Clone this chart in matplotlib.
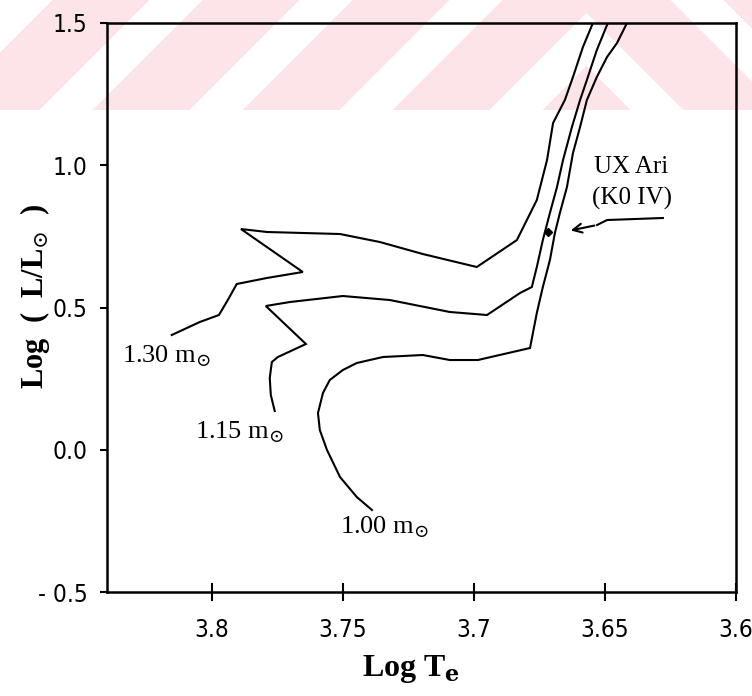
import numpy as np
import matplotlib
matplotlib.use("Agg")
import matplotlib.pyplot as plt

# Evolutionary tracks in the HR diagram: log Te vs log (L/Lsun)
track_130_logte = [3.8153, 3.8046, 3.7973, 3.7939, 3.7905, 3.7790, 3.7653, 3.7889,
                   3.7790, 3.7511, 3.7359, 3.7195, 3.6989, 3.6836, 3.6798, 3.6760,
                   3.6721, 3.6698, 3.6653, 3.6622, 3.6584, 3.6546]
track_130_logl = [0.4033, 0.4490, 0.4736, 0.5263, 0.5826, 0.6037, 0.6248, 0.7759,
                  0.7654, 0.7583, 0.7302, 0.6880, 0.6423, 0.7372, 0.8075, 0.8778,
                  1.0184, 1.1485, 1.2293, 1.3102, 1.4156, 1.5000]

track_115_logte = [3.7760, 3.7775, 3.7779, 3.7771, 3.7748, 3.7641, 3.7794, 3.7702,
                   3.7500, 3.7321, 3.7092, 3.6950, 3.6824, 3.6779, 3.6760, 3.6737,
                   3.6710, 3.6683, 3.6660, 3.6626, 3.6595, 3.6569, 3.6531, 3.6489]
track_115_logl = [0.1362, 0.1924, 0.2522, 0.3084, 0.3260, 0.3717, 0.5053, 0.5193,
                  0.5404, 0.5263, 0.4842, 0.4736, 0.5510, 0.5720, 0.6423, 0.7372,
                  0.8322, 0.9235, 1.0184, 1.1344, 1.2293, 1.2996, 1.4051, 1.5000]

track_100_logte = [3.7389, 3.7447, 3.7511, 3.7561, 3.7588, 3.7595, 3.7576, 3.7550,
                   3.7500, 3.7447, 3.7347, 3.7195, 3.7092, 3.6985, 3.6786, 3.6760,
                   3.6737, 3.6710, 3.6691, 3.6672, 3.6645, 3.6622, 3.6595, 3.6569,
                   3.6531, 3.6492, 3.6454, 3.6416]
track_100_logl = [-0.2118, -0.1661, -0.0958, 0.0000, 0.0694, 0.1291, 0.1996, 0.2451,
                  0.2803, 0.3049, 0.3260, 0.3330, 0.3154, 0.3154, 0.3576, 0.4807,
                  0.5720, 0.6669, 0.7619, 0.8322, 0.9235, 1.0431, 1.1344, 1.2293,
                  1.3102, 1.3805, 1.4297, 1.5000]

track_labels = [r"1.30 m$_{\odot}$", r"1.15 m$_{\odot}$", r"1.00 m$_{\odot}$"]
label_logte = [3.8344, 3.8065, 3.7511]
label_logl = [0.3295, 0.0624, -0.2716]

# UX Ari (K0 IV) position and its pointer
star_logte = 3.6718
star_logl = 0.7654
pointer_logte = [3.6279, 3.6492, 3.6530, 3.6620]
pointer_logl = [0.8146, 0.8075, 0.7900, 0.7710]
star_name = "UX Ari"
star_type = "(K0 IV)"

xticks = [3.8, 3.75, 3.7, 3.65, 3.6]
xtick_labels = ["3.8", "3.75", "3.7", "3.65", "3.6"]
yticks = [1.5, 1.0, 0.5, 0.0, -0.5]
ytick_labels = ["1.5", "1.0", "0.5", "0.0", "- 0.5"]

plt.rcParams["mathtext.fontset"] = "dejavuserif"

W, H = 752, 696
fig = plt.figure(figsize=(W / 100, H / 100), dpi=100)
fig.patch.set_facecolor("white")

# pale diagonal banding across the top strip of the page
band_h = 110
yy, xx = np.mgrid[0:band_h, 0:W]
apex = 586
u = np.where(xx < apex, xx + yy, 2 * apex - xx + yy)
mask = ((u - 202) % 150) < 97
img = np.ones((band_h, W, 3))
img[mask] = np.array([252, 228, 232]) / 255.0
bg = fig.add_axes([0, 1 - band_h / H, 1, band_h / H], zorder=0)
bg.imshow(img, aspect="auto", interpolation="nearest")
bg.axis("off")

ax = fig.add_axes([107 / W, 1 - 592 / H, (736 - 107) / W, (592 - 23) / H], zorder=1)
ax.patch.set_alpha(0)

line_kw = dict(color="black", lw=1.5, solid_joinstyle="miter")
ax.plot(track_130_logte, track_130_logl, **line_kw)
ax.plot(track_115_logte, track_115_logl, **line_kw)
ax.plot(track_100_logte, track_100_logl, **line_kw)

serif = ["Liberation Serif", "DejaVu Serif"]
for txt, lx, ly in zip(track_labels, label_logte, label_logl):
    ax.text(lx, ly, txt, ha="left", va="center", fontsize=19, family=serif)

ax.plot([star_logte], [star_logl], marker="D", ms=4, color="black")
ax.plot(pointer_logte[:3], pointer_logl[:3], color="black", lw=1.5)
ax.annotate("", xy=(3.6641, 0.7689), xytext=(pointer_logte[2], pointer_logl[2]),
            arrowprops=dict(arrowstyle="->", lw=1.5, color="black", mutation_scale=16))
ax.text(3.6401, 0.9938, star_name, ha="center", va="center", fontsize=18, family=serif)
ax.text(3.6397, 0.8849, star_type, ha="center", va="center", fontsize=18, family=serif)

ax.set_xlim(3.84, 3.6)
ax.set_ylim(-0.5, 1.5)
ax.set_xticks(xticks)
ax.set_xticklabels(xtick_labels)
ax.set_yticks(yticks)
ax.set_yticklabels(ytick_labels)

for lab in ax.get_xticklabels() + ax.get_yticklabels():
    lab.set_fontsize(17.5)
    lab.set_family("DejaVu Sans")
    lab.set_fontstretch("condensed")

ax.tick_params(axis="x", direction="inout", length=13, width=1.5, pad=12)
ax.tick_params(axis="y", direction="out", length=5, width=1.5, pad=9)
for sp in ax.spines.values():
    sp.set_linewidth(1.8)

ax.set_xlabel(r"Log T$_{\mathbf{e}}$", fontsize=23, fontweight="bold", family=serif)
ax.xaxis.set_label_coords(0.483, -0.108)
ax.set_ylabel(r"Log  (  L/L$_{\odot}$  )", fontsize=22, fontweight="bold", family=serif)
ax.yaxis.set_label_coords(-0.088, 0.52)

fig.savefig("out.png", dpi=100)
